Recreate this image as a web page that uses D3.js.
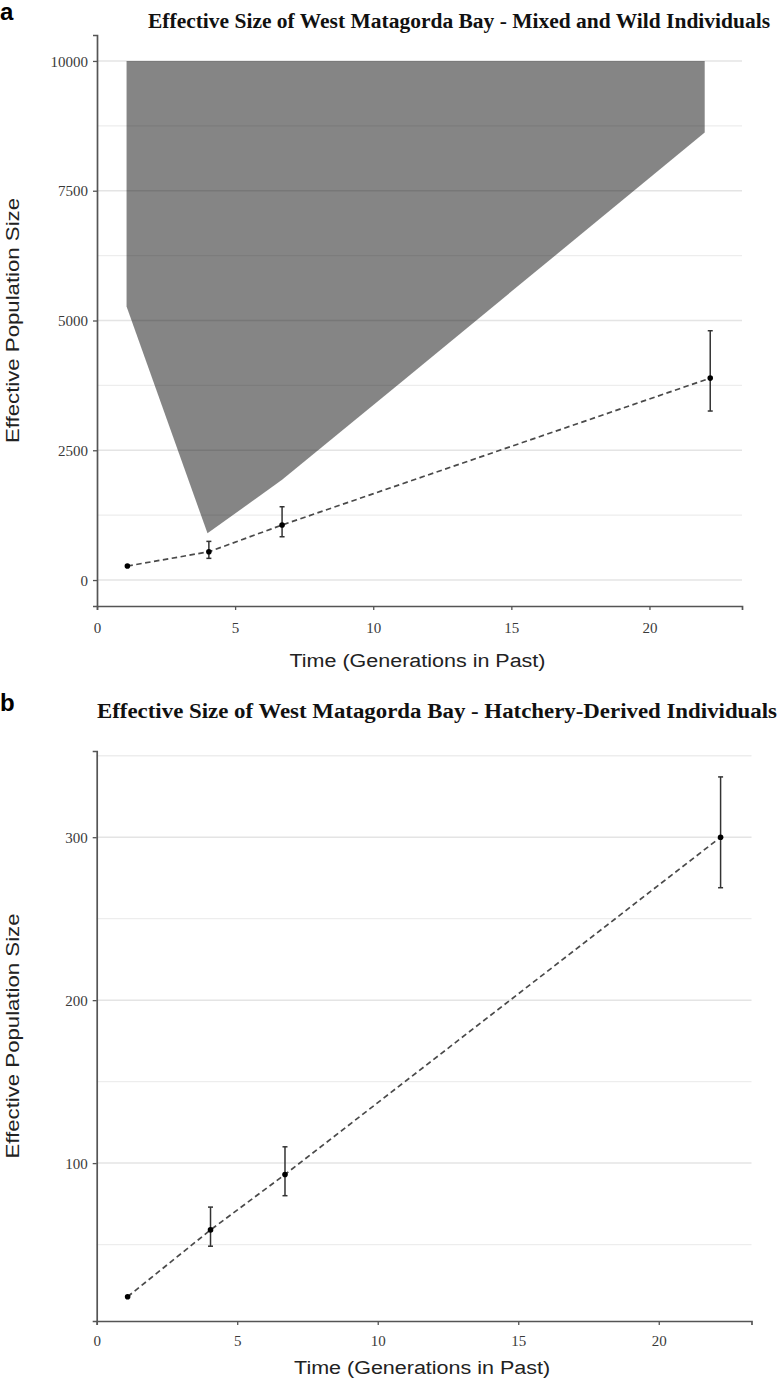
<!DOCTYPE html>
<html><head><meta charset="utf-8">
<script src="https://cdn.jsdelivr.net/npm/d3@7/dist/d3.min.js"></script>
<style>body{margin:0;background:#fff}svg{display:block}</style>
</head><body>
<svg id="chart" width="779" height="1387"></svg>
<script>
// ---- data ----
const xTicks = [0, 5, 10, 15, 20];

const timeA = [1.1, 4.05, 6.7, 22.2];
const neA   = [270, 545, 1060, 3890];
const loA   = [270, 418, 834, 3256];
const hiA   = [270, 745, 1412, 4803];
const bandX = [1.07, 22.0, 22.0, 11.1, 6.7, 4.0, 1.07];
const bandY = [10000, 10000, 8620, 3850, 1930, 900, 5270];
const yTicksA = [0, 2500, 5000, 7500, 10000];
const yMinorA = [1250, 3750, 6250, 8750];

const timeB = [1.1, 4.05, 6.7, 22.2];
const neB   = [18, 59, 93, 300];
const loB   = [18, 49, 80, 269];
const hiB   = [18, 73, 110, 337];
const yTicksB = [100, 200, 300];
const yMinorB = [50, 150, 250, 350];

const titleA = "Effective Size of West Matagorda Bay - Mixed and Wild Individuals";
const titleB = "Effective Size of West Matagorda Bay - Hatchery-Derived Individuals";
const xLabel = "Time (Generations in Past)";
const yLabel = "Effective Population Size";

const svg = d3.select("#chart");
const SERIF = "'Liberation Serif','Times New Roman',serif";
const SANS = "'Liberation Sans',Arial,sans-serif";

function panel(o) {
  const g = svg.append("g");
  const x = d3.scaleLinear().domain(o.xDomain).range(o.xRange);
  const y = d3.scaleLinear().domain(o.yDomain).range(o.yRange);
  const [x0, x1] = o.xRange, [yb, yt] = o.yRange;

  // grid
  g.selectAll(".gmin").data(o.yMinor.filter(v => v >= o.yDomain[0] && v <= o.yDomain[1])).enter()
    .append("line").attr("x1", x0).attr("x2", x1).attr("y1", d => y(d)).attr("y2", d => y(d))
    .attr("stroke", "#ededed").attr("stroke-width", 1.3);
  g.selectAll(".gmaj").data(o.yTicks).enter()
    .append("line").attr("x1", x0).attr("x2", x1).attr("y1", d => y(d)).attr("y2", d => y(d))
    .attr("stroke", "#e4e4e4").attr("stroke-width", 1.5);

  // band
  if (o.band) {
    g.append("path")
      .attr("d", d3.line().x(d => x(d[0])).y(d => y(d[1]))(d3.zip(o.band[0], o.band[1])) + "Z")
      .attr("fill", "#000").attr("fill-opacity", 0.48);
  }

  // dashed line
  const pts = d3.zip(o.tx, o.ne);
  g.append("path").attr("d", d3.line().x(d => x(d[0])).y(d => y(d[1]))(pts))
    .attr("fill", "none").attr("stroke", "#4a4a4a").attr("stroke-width", 1.7)
    .attr("stroke-dasharray", "5.5,3.5");

  // error bars
  const eb = d3.zip(o.tx, o.lo, o.hi).filter(d => d[2] > d[1]);
  const ebg = g.selectAll(".eb").data(eb).enter().append("g")
    .attr("stroke", "#333").attr("stroke-width", 1.5);
  ebg.append("line").attr("x1", d => x(d[0])).attr("x2", d => x(d[0]))
    .attr("y1", d => y(d[1])).attr("y2", d => y(d[2]));
  ebg.append("line").attr("x1", d => x(d[0]) - 2.5).attr("x2", d => x(d[0]) + 2.5)
    .attr("y1", d => y(d[1])).attr("y2", d => y(d[1]));
  ebg.append("line").attr("x1", d => x(d[0]) - 2.5).attr("x2", d => x(d[0]) + 2.5)
    .attr("y1", d => y(d[2])).attr("y2", d => y(d[2]));

  // points
  g.selectAll(".pt").data(pts).enter().append("circle")
    .attr("cx", d => x(d[0])).attr("cy", d => y(d[1])).attr("r", 2.8).attr("fill", "#000");

  // axes
  const ax = g.append("g").attr("transform", `translate(0,${yb})`)
    .call(d3.axisBottom(x).tickValues(xTicks).tickSize(4).tickPadding(o.xPad).tickFormat(d3.format("d")));
  const ay = g.append("g").attr("transform", `translate(${x0},0)`)
    .call(d3.axisLeft(y).tickValues(o.yTicks).tickSize(4).tickPadding(5).tickFormat(d3.format("d")));
  [ax, ay].forEach(a => {
    a.select(".domain").attr("stroke", "#555").attr("stroke-width", 1.7);
    a.selectAll(".tick line").attr("stroke", "#555").attr("stroke-width", 1.3);
    a.selectAll(".tick text").attr("fill", "#3a3a3a").style("font-family", SERIF).style("font-size", "15px");
  });
  ay.selectAll(".tick text").attr("dy", "0.35em");

  // titles
  g.append("text").attr("x", o.titleX[0]).attr("y", o.titleY).text(o.title)
    .attr("textLength", o.titleX[1] - o.titleX[0]).attr("lengthAdjust", "spacingAndGlyphs")
    .style("font-family", SERIF).style("font-weight", "bold").style("font-size", "20px").attr("fill", "#111");
  g.append("text").attr("x", (o.xRange[0] + o.xRange[1]) / 2 - 2).attr("y", o.xLabY).text(xLabel)
    .attr("text-anchor", "middle").attr("textLength", 256).attr("lengthAdjust", "spacingAndGlyphs")
    .style("font-family", SANS).style("font-size", "18px").attr("fill", "#222");
  g.append("text").attr("transform", `translate(19,${(yb + yt) / 2}) rotate(-90)`).text(yLabel)
    .attr("text-anchor", "middle").attr("textLength", 245).attr("lengthAdjust", "spacingAndGlyphs")
    .style("font-family", SANS).style("font-size", "18px").attr("fill", "#222");
  g.append("text").attr("x", 0).attr("y", o.tagY).text(o.tag)
    .style("font-family", SANS).style("font-weight", "bold").style("font-size", "24px").attr("fill", "#000");
}

panel({
  xDomain: [0, 23.35], xRange: [97, 742],
  yDomain: [-500, 10500], yRange: [606, 35],
  yTicks: yTicksA, yMinor: yMinorA,
  tx: timeA, ne: neA, lo: loA, hi: hiA, band: [bandX, bandY],
  title: titleA, titleX: [148, 770], titleY: 28, xLabY: 667, xPad: 12, tag: "a", tagY: 20
});
panel({
  xDomain: [0, 23.3], xRange: [96.7, 751.5],
  yDomain: [3.1, 352.9], yRange: [1321, 751],
  yTicks: yTicksB, yMinor: yMinorB,
  tx: timeB, ne: neB, lo: loB, hi: hiB, band: null,
  title: titleB, titleX: [97, 777], titleY: 718, xLabY: 1374, xPad: 10, tag: "b", tagY: 711
});
</script>
</body></html>
